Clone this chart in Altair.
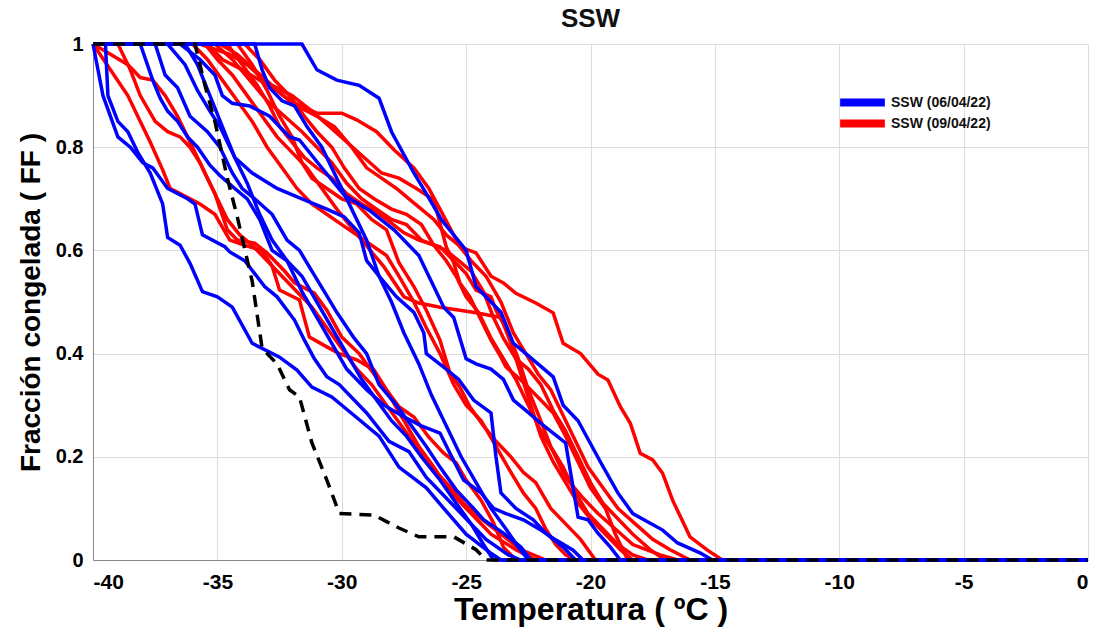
import altair as alt
import pandas as pd

# ---- Blue series: SSW (06/04/22)  (temperature, frozen fraction) ----
blue_1 = [(-40,1),(-39.5,1),(-39.4,0.90),(-39.0,0.85),(-38.6,0.83),(-38.2,0.79),(-37.7,0.75),(-37.2,0.69),(-37.0,0.625),(-36.5,0.61),(-36.1,0.575),(-35.6,0.52),(-35.0,0.51),(-34.4,0.49),(-33.6,0.42),(-32.5,0.393),(-31.8,0.368),(-31.2,0.335),(-30.4,0.316),(-29.5,0.28),(-28.5,0.24),(-27.7,0.18),(-26.6,0.14),(-25.9,0.10),(-25.0,0.05),(-24.0,0.013),(-23.6,0),(0,0)]
blue_2 = [(-40,1),(-39.6,0.90),(-39.0,0.82),(-38.5,0.80),(-38.0,0.77),(-37.6,0.76),(-37.0,0.72),(-36.2,0.70),(-35.9,0.69),(-35.6,0.63),(-34.7,0.607),(-34.5,0.597),(-33.9,0.58),(-33.1,0.53),(-32.6,0.51),(-31.9,0.465),(-31.5,0.426),(-31.1,0.39),(-30.6,0.355),(-30.1,0.34),(-29.0,0.285),(-28.1,0.23),(-27.3,0.21),(-26.6,0.16),(-25.8,0.12),(-25.0,0.08),(-24.2,0.04),(-23.3,0.01),(-22.8,0),(0,0)]
blue_3 = [(-40,1),(-38.1,1),(-37.6,0.93),(-37.3,0.895),(-37.0,0.87),(-36.6,0.85),(-36.2,0.82),(-35.8,0.80),(-35.3,0.765),(-34.9,0.745),(-34.3,0.72),(-33.8,0.70),(-33.3,0.66),(-32.8,0.60),(-32.2,0.58),(-31.6,0.52),(-31.0,0.47),(-30.4,0.42),(-29.8,0.37),(-29.0,0.33),(-28.3,0.30),(-27.6,0.28),(-26.8,0.26),(-26.05,0.246),(-25.65,0.207),(-25.1,0.155),(-24.4,0.13),(-23.9,0.10),(-23.4,0.09),(-22.7,0.078),(-22.0,0.058),(-21.4,0.039),(-20.7,0.019),(-20.3,0),(0,0)]
blue_4 = [(-40,1),(-37.5,1),(-37.1,0.94),(-36.6,0.915),(-36.1,0.86),(-35.4,0.83),(-34.9,0.80),(-34.4,0.75),(-34.0,0.72),(-33.5,0.70),(-32.8,0.67),(-32.2,0.62),(-31.7,0.60),(-31.2,0.56),(-30.7,0.52),(-30.2,0.48),(-29.5,0.43),(-29.0,0.40),(-28.5,0.34),(-27.8,0.30),(-27.2,0.26),(-26.6,0.22),(-26.05,0.18),(-25.4,0.136),(-24.7,0.10),(-24.3,0.078),(-23.5,0.052),(-22.8,0.025),(-22.4,0),(0,0)]
blue_5 = [(-40,1),(-37.0,1),(-36.3,0.96),(-35.8,0.91),(-35.3,0.87),(-34.9,0.84),(-34.3,0.78),(-33.6,0.75),(-32.6,0.72),(-31.6,0.70),(-30.6,0.68),(-29.9,0.665),(-29.3,0.634),(-29.0,0.58),(-28.5,0.55),(-27.8,0.51),(-27.1,0.48),(-26.7,0.44),(-26.6,0.40),(-25.8,0.37),(-25.3,0.35),(-24.7,0.31),(-24.0,0.285),(-23.8,0.20),(-23.6,0.13),(-23.0,0.10),(-22.3,0.078),(-21.8,0.052),(-21.1,0.025),(-20.6,0),(0,0)]
blue_6 = [(-40,1),(-36.5,1),(-35.7,0.97),(-35.1,0.94),(-34.8,0.90),(-34.4,0.885),(-33.7,0.88),(-32.9,0.86),(-32.1,0.82),(-31.7,0.814),(-30.9,0.766),(-29.9,0.707),(-28.9,0.678),(-27.9,0.64),(-26.9,0.59),(-26.3,0.53),(-25.9,0.49),(-25.5,0.47),(-25.0,0.39),(-24.6,0.38),(-24.0,0.37),(-23.5,0.35),(-23.1,0.31),(-22.6,0.29),(-22.0,0.265),(-21.5,0.246),(-21.0,0.227),(-20.5,0.083),(-20.1,0.078),(-19.7,0.052),(-19.2,0.025),(-18.8,0),(0,0)]
blue_7 = [(-40,1),(-33.5,1),(-33.2,0.95),(-32.9,0.915),(-32.4,0.89),(-31.9,0.88),(-31.4,0.84),(-30.8,0.80),(-30.2,0.74),(-29.6,0.68),(-29.0,0.62),(-28.5,0.55),(-28.0,0.50),(-27.5,0.44),(-26.9,0.38),(-26.4,0.32),(-25.8,0.26),(-25.2,0.20),(-24.6,0.15),(-24.0,0.10),(-23.4,0.06),(-22.9,0.025),(-22.5,0),(0,0)]
blue_8 = [(-40,1),(-31.6,1),(-31.0,0.95),(-30.2,0.93),(-29.3,0.92),(-28.5,0.895),(-28.0,0.83),(-27.1,0.75),(-26.6,0.71),(-26.0,0.66),(-25.5,0.63),(-25.0,0.60),(-24.6,0.53),(-23.6,0.48),(-23.1,0.42),(-22.6,0.40),(-21.5,0.355),(-21.1,0.30),(-20.5,0.27),(-19.6,0.19),(-18.9,0.13),(-18.3,0.09),(-17.1,0.058),(-16.5,0.033),(-15.6,0.014),(-15.1,0),(0,0)]
blue_9 = [(-40,1),(-36.3,1),(-35.8,0.96),(-35.3,0.90),(-34.8,0.84),(-34.3,0.78),(-33.8,0.73),(-33.3,0.67),(-32.8,0.62),(-32.2,0.58),(-31.6,0.55),(-31.0,0.50),(-30.4,0.45),(-29.8,0.40),(-29.2,0.35),(-28.6,0.31),(-28.0,0.27),(-27.4,0.24),(-26.8,0.20),(-26.05,0.155),(-25.4,0.11),(-24.8,0.07),(-24.3,0.03),(-23.9,0),(0,0)]

# ---- Red series: SSW (09/04/22) ----
red_1 = [(-40,1),(-39.3,0.95),(-38.6,0.90),(-38.1,0.85),(-37.7,0.81),(-37.2,0.756),(-36.9,0.72),(-36.5,0.71),(-35.7,0.69),(-35.1,0.67),(-34.5,0.62),(-33.9,0.61),(-33.2,0.60),(-32.8,0.57),(-32.5,0.523),(-31.7,0.504),(-31.3,0.432),(-30.6,0.413),(-30.1,0.40),(-29.4,0.388),(-28.7,0.368),(-28.2,0.33),(-27.7,0.297),(-27.1,0.277),(-26.5,0.238),(-25.9,0.207),(-25.4,0.188),(-25.0,0.155),(-24.4,0.116),(-23.9,0.072),(-23.5,0.025),(-23.0,0),(0,0)]
red_2 = [(-40,1),(-39.3,0.98),(-38.6,0.96),(-38.1,0.935),(-37.6,0.93),(-37.1,0.90),(-36.6,0.86),(-36.2,0.82),(-35.8,0.78),(-35.4,0.74),(-35.0,0.70),(-34.6,0.66),(-34.1,0.63),(-33.6,0.61),(-33.0,0.58),(-32.4,0.55),(-31.8,0.52),(-31.2,0.49),(-30.6,0.45),(-30.0,0.41),(-29.4,0.37),(-28.8,0.34),(-28.2,0.30),(-27.6,0.26),(-27.0,0.22),(-26.4,0.18),(-25.8,0.15),(-25.1,0.11),(-24.4,0.08),(-23.6,0.05),(-22.8,0.02),(-21.8,0),(0,0)]
red_3 = [(-40,1),(-39.0,1),(-38.5,0.95),(-38.1,0.90),(-37.5,0.85),(-37.0,0.83),(-36.5,0.82),(-36.1,0.80),(-35.7,0.77),(-35.4,0.74),(-35.1,0.71),(-34.6,0.64),(-34.2,0.62),(-33.5,0.614),(-33.0,0.595),(-32.3,0.56),(-31.9,0.537),(-31.1,0.517),(-30.6,0.484),(-30.0,0.432),(-29.3,0.40),(-28.7,0.36),(-28.1,0.32),(-27.5,0.27),(-26.9,0.22),(-26.3,0.18),(-25.6,0.13),(-24.8,0.09),(-24.0,0.05),(-23.0,0.02),(-22.2,0),(0,0)]
red_4 = [(-40,1),(-35.1,1),(-34.4,0.97),(-33.7,0.93),(-33.0,0.89),(-32.3,0.86),(-31.6,0.83),(-31.0,0.80),(-30.4,0.77),(-29.8,0.73),(-29.2,0.70),(-28.6,0.68),(-28.0,0.66),(-27.4,0.65),(-26.8,0.62),(-26.3,0.61),(-25.8,0.60),(-25.3,0.58),(-24.8,0.56),(-24.3,0.52),(-23.9,0.47),(-23.5,0.43),(-23.0,0.39),(-22.5,0.37),(-22.0,0.34),(-21.5,0.29),(-21.0,0.25),(-20.5,0.20),(-20.0,0.15),(-19.5,0.11),(-18.9,0.08),(-18.3,0.05),(-17.6,0.02),(-17.0,0),(0,0)]
red_5 = [(-40,1),(-34.6,1),(-34.0,0.96),(-33.4,0.92),(-32.9,0.88),(-32.5,0.84),(-32.0,0.81),(-31.5,0.78),(-31.0,0.76),(-30.4,0.74),(-29.8,0.71),(-29.2,0.69),(-28.7,0.678),(-28.2,0.66),(-27.5,0.634),(-26.9,0.62),(-26.05,0.607),(-25.5,0.58),(-25.0,0.555),(-24.6,0.523),(-24.0,0.51),(-23.8,0.484),(-23.3,0.44),(-22.9,0.39),(-22.5,0.33),(-22.0,0.27),(-21.6,0.22),(-21.1,0.18),(-20.6,0.13),(-20.1,0.09),(-19.5,0.06),(-18.9,0.03),(-18.3,0.01),(-17.7,0),(0,0)]
red_6 = [(-40,1),(-34.2,1),(-33.6,0.96),(-33.0,0.91),(-32.5,0.86),(-32.0,0.82),(-31.6,0.77),(-31.2,0.74),(-30.6,0.72),(-30.0,0.70),(-29.4,0.69),(-28.8,0.66),(-28.2,0.64),(-27.7,0.576),(-27.1,0.53),(-26.6,0.484),(-26.05,0.426),(-25.65,0.362),(-25.25,0.335),(-24.85,0.297),(-24.3,0.26),(-23.8,0.23),(-23.2,0.20),(-22.7,0.17),(-22.2,0.15),(-21.6,0.10),(-21.0,0.07),(-20.4,0.04),(-19.8,0),(0,0)]
red_7 = [(-40,1),(-33.9,1),(-33.3,0.97),(-32.7,0.93),(-32.1,0.90),(-31.5,0.86),(-31.0,0.83),(-30.4,0.80),(-29.9,0.76),(-29.3,0.72),(-28.7,0.70),(-28.0,0.68),(-27.4,0.67),(-26.8,0.65),(-26.3,0.61),(-25.8,0.58),(-25.4,0.55),(-25.0,0.51),(-24.5,0.48),(-24.0,0.43),(-23.5,0.39),(-23.0,0.35),(-22.5,0.30),(-22.0,0.25),(-21.5,0.21),(-21.0,0.16),(-20.3,0.12),(-19.7,0.09),(-19.0,0.06),(-18.3,0.03),(-17.2,0.01),(-16.5,0),(0,0)]
red_8 = [(-40,1),(-35.4,1),(-34.8,0.97),(-34.0,0.95),(-33.3,0.93),(-32.6,0.91),(-31.8,0.88),(-31.0,0.86),(-30.3,0.84),(-29.6,0.80),(-29.0,0.76),(-28.4,0.74),(-27.8,0.72),(-27.3,0.70),(-26.8,0.68),(-26.3,0.66),(-25.8,0.63),(-25.3,0.61),(-24.8,0.58),(-24.2,0.55),(-23.6,0.50),(-23.1,0.44),(-22.6,0.40),(-22.1,0.36),(-21.6,0.33),(-21.1,0.28),(-20.6,0.23),(-20.1,0.18),(-19.5,0.14),(-18.9,0.10),(-18.2,0.07),(-17.5,0.04),(-16.8,0.02),(-16.0,0),(0,0)]
red_9 = [(-40,1),(-34.9,1),(-34.2,0.98),(-33.5,0.95),(-32.8,0.92),(-32.0,0.90),(-31.2,0.87),(-30.5,0.84),(-29.8,0.81),(-29.1,0.78),(-28.4,0.75),(-27.7,0.74),(-27.0,0.72),(-26.3,0.698),(-25.8,0.607),(-25.5,0.576),(-25.25,0.537),(-24.85,0.51),(-24.45,0.47),(-24.0,0.426),(-23.6,0.393),(-23.4,0.374),(-22.8,0.349),(-22.0,0.31),(-21.5,0.285),(-21.0,0.24),(-20.5,0.19),(-20.0,0.14),(-19.4,0.10),(-19.0,0.05),(-18.5,0),(0,0)]
red_10 = [(-40,1),(-35.5,1),(-35.0,0.97),(-34.4,0.94),(-33.8,0.90),(-33.2,0.86),(-32.6,0.82),(-32.0,0.79),(-31.4,0.76),(-30.8,0.72),(-30.2,0.68),(-29.7,0.65),(-29.3,0.626),(-28.3,0.568),(-27.5,0.51),(-26.9,0.498),(-26.05,0.49),(-25.25,0.484),(-24.6,0.479),(-23.6,0.47),(-23.2,0.42),(-22.8,0.36),(-22.4,0.30),(-22.0,0.24),(-21.5,0.19),(-21.0,0.15),(-20.5,0.11),(-20.0,0.08),(-19.4,0.05),(-18.8,0.02),(-18.3,0),(0,0)]
red_11 = [(-40,1),(-36.0,1),(-35.4,0.97),(-34.8,0.93),(-34.2,0.89),(-33.6,0.85),(-33.0,0.80),(-32.4,0.76),(-31.8,0.72),(-31.2,0.69),(-30.6,0.67),(-30.0,0.65),(-29.4,0.63),(-28.8,0.61),(-28.2,0.59),(-27.7,0.55),(-27.1,0.50),(-26.6,0.45),(-26.05,0.40),(-25.5,0.34),(-25.0,0.30),(-24.4,0.27),(-23.8,0.22),(-23.2,0.17),(-22.7,0.13),(-22.2,0.10),(-21.8,0.06),(-21.4,0.03),(-21.0,0.01),(-20.6,0),(0,0)]
red_12 = [(-40,1),(-35.7,1),(-34.5,0.98),(-33.8,0.96),(-33.0,0.925),(-32.1,0.89),(-31.0,0.866),(-30.0,0.866),(-29.4,0.853),(-28.6,0.83),(-27.9,0.795),(-27.1,0.76),(-26.5,0.72),(-26.05,0.68),(-25.25,0.607),(-24.6,0.595),(-24.0,0.55),(-23.5,0.537),(-23.0,0.517),(-22.2,0.498),(-21.5,0.479),(-21.1,0.42),(-20.4,0.40),(-19.7,0.36),(-19.3,0.349),(-18.8,0.297),(-18.4,0.265),(-18.0,0.207),(-17.5,0.194),(-17.1,0.168),(-16.7,0.116),(-16.0,0.045),(-15.3,0.019),(-14.7,0),(0,0)]

# ---- Black dashed reference curve ----
black_ref = [(-40,1),(-35.9,1),(-35.5,0.92),(-35.1,0.85),(-34.6,0.74),(-34.2,0.665),(-33.6,0.54),(-33.2,0.41),(-32.6,0.38),(-32.1,0.33),(-31.7,0.316),(-31.2,0.227),(-30.6,0.155),(-30.1,0.09),(-28.7,0.087),(-27.7,0.062),(-26.9,0.045),(-25.5,0.045),(-24.6,0.02),(-24.2,0),(0,0)]

blue_series = [blue_1, blue_2, blue_3, blue_4, blue_5, blue_6, blue_7, blue_8, blue_9]
red_series = [red_1, red_2, red_3, red_4, red_5, red_6, red_7, red_8, red_9, red_10, red_11, red_12]
label_blue = "SSW (06/04/22)"
label_red = "SSW (09/04/22)"
x_ticks = [-40, -35, -30, -25, -20, -15, -10, -5, 0]
y_ticks = [0, 0.2, 0.4, 0.6, 0.8, 1]


def frame(series_list, label, prefix):
    rows = []
    for i, s in enumerate(series_list):
        for k, (t, ff) in enumerate(s):
            rows.append({"T": t, "FF": ff, "id": f"{prefix}{i}", "k": k, "serie": label})
    return pd.DataFrame(rows)


df_blue = frame(blue_series, label_blue, "b")
df_red = frame(red_series, label_red, "r")
df_black = frame([black_ref], "ref", "k")

font = "Liberation Sans"

x_enc = alt.X(
    "T:Q",
    scale=alt.Scale(domain=[-40, 0], nice=False, zero=False),
    axis=alt.Axis(
        values=x_ticks,
        title="Temperatura ( ºC )",
        labelExpr="datum.value < 0 ? '-' + format(-datum.value, 'd') : format(datum.value, 'd')",
        labelFontSize=21,
        labelFontWeight="bold",
        titleFontSize=32,
        titleFontWeight="bold",
        labelPadding=11,
        titlePadding=2,
        ticks=False,
        grid=True,
    ),
)
y_enc = alt.Y(
    "FF:Q",
    scale=alt.Scale(domain=[0, 1], nice=False),
    axis=alt.Axis(
        values=y_ticks,
        format="~g",
        title="Fracción congelada ( FF )",
        labelFontSize=20,
        labelFontWeight="bold",
        titleFontSize=28,
        titleFontWeight="bold",
        labelPadding=10,
        titlePadding=10,
        ticks=False,
        grid=True,
    ),
)


def make_legend(y_pos):
    return alt.Legend(
        title=None,
        orient="none",
        legendX=743,
        legendY=y_pos,
        symbolType="stroke",
        symbolSize=2000,
        symbolStrokeWidth=8,
        labelFontSize=14,
        labelFontWeight="bold",
        labelFont=font,
        labelColor="#111111",
        labelOffset=2,
    )


red_layer = alt.Chart(df_red).mark_line(strokeWidth=3.5).encode(
    x=x_enc, y=y_enc, detail="id:N", order="k:Q",
    color=alt.Color("serie:N", scale=alt.Scale(domain=[label_red], range=["#FF0000"]), legend=make_legend(53)),
)
blue_layer = alt.Chart(df_blue).mark_line(strokeWidth=3.5).encode(
    x=x_enc, y=y_enc, detail="id:N", order="k:Q",
    color=alt.Color("serie:N", scale=alt.Scale(domain=[label_blue], range=["#0000FF"]), legend=make_legend(32)),
)
black_layer = alt.Chart(df_black).mark_line(
    strokeWidth=3.5, color="black", strokeDash=[12, 8]
).encode(x=x_enc, y=y_enc, detail="id:N", order="k:Q")

chart = (
    alt.layer(red_layer, blue_layer, black_layer)
    .resolve_scale(color="independent")
    .resolve_legend(color="independent")
    .properties(
        width=995,
        height=516,
        title=alt.TitleParams("SSW", fontSize=26, fontWeight="bold", font=font, anchor="middle", offset=2, color="#111111"),
        autosize=alt.AutoSizeParams(type="none"),
        padding={"left": 93, "top": 44, "right": 12, "bottom": 75},
    )
    .configure_view(stroke="#262626", strokeWidth=1)
    .configure_axis(
        labelFont=font, titleFont=font, labelColor="#111111", titleColor="#111111",
        gridColor="#dedede", gridWidth=1, domainColor="#262626", domainWidth=1,
    )
    .configure(background="white")
)

chart.save("out.html", embed_options={"renderer": "svg", "actions": False})
